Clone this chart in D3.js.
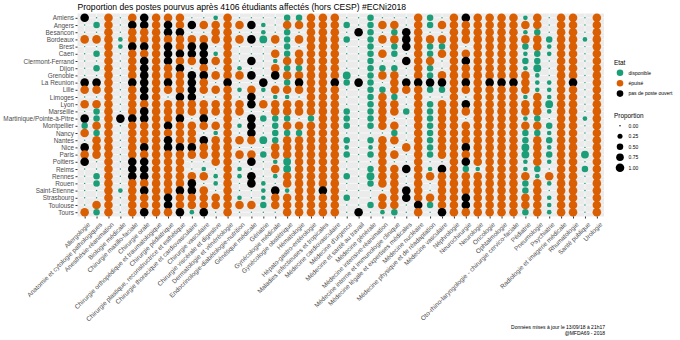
<!DOCTYPE html>
<html><head><meta charset="utf-8">
<script src="https://cdn.jsdelivr.net/npm/d3@7"></script>
<style>
body{margin:0;background:#fff}
text{font-family:"Liberation Sans",Arial,sans-serif}
</style>
</head><body>
<svg id="chart" width="680" height="340"></svg>
<script>
const villes = ["Amiens","Angers","Besancon","Bordeaux","Brest","Caen","Clermont-Ferrand","Dijon","Grenoble","La Reunion","Lille","Limoges","Lyon","Marseille","Martinique/Pointe-à-Pitre","Montpellier","Nancy","Nantes","Nice","Paris","Poitiers","Reims","Rennes","Rouen","Saint-Etienne","Strasbourg","Toulouse","Tours"];

const specialites = ["Allergologie","Anatomie et cytologie pathologiques","Anesthésie-réanimation","Biologie médicale","Chirurgie maxillo-faciale","Chirurgie orale","Chirurgie orthopédique et traumatologique","Chirurgie pédiatrique","Chirurgie plastique, reconstructrice et esthétique","Chirurgie thoracique et cardiovasculaire","Chirurgie vasculaire","Chirurgie viscérale et digestive","Dermatologie et vénéréologie","Endocrinologie-diabétologie-nutrition","Génétique médicale","Gériatrie","Gynécologie médicale","Gynécologie obstétrique","Hématologie","Hépato-gastro-entérologie","Maladies infectieuses et tropicales","Médecine cardiovasculaire","Médecine d'urgence","Médecine et santé au travail","Médecine générale","Médecine intensive-réanimation","Médecine interne et immunologie clinique","Médecine légale et expertises médicales","Médecine nucléaire","Médecine physique et de réadaptation","Médecine vasculaire","Néphrologie","Neurochirurgie","Neurologie","Oncologie","Ophtalmologie","Oto-rhino-laryngologie - chirurgie cervico-faciale","Pédiatrie","Pneumologie","Psychiatrie","Radiologie et imagerie médicale","Rhumatologie","Santé publique","Urologie"];

// One string per city, one character per speciality (same order as above):
// 'O' = épuisé, 'B' = pas de poste ouvert, digit d = disponible, proportion d/10
const postes = [
  "B0O0OBOOO002O00"+"0055OOO"+"005000O5"+"0OBOOOO2O0OO0O",
  "05O0BBOBOBOOOOB"+"20OOOOO"+"505OO0O5"+"OOOOOOOOO0OO0O",
  "00O0OOOBB00OO00"+"2050OOO"+"0B505BO0"+"0OOOOOO250OO0O",
  "OOO2OOOOOOOOOOB"+"8O5OOOO"+"505OOBOO"+"OOOOOOOOO5OO2O",
  "00O2BBOBOBB0O00"+"0050OOO"+"00505BO5"+"5O0OOOO5O2OO0O",
  "05O0OOOBBBB2O00"+"0O5OOOO"+"005O50O5"+"OOOOOOO252OO0O",
  "00O0OBOBOOBOO0B"+"02OOOOO"+"00500BOO"+"0OBOOOO550OO0O",
  "05O0OBOOB0O0O20"+"0O55OOO"+"005550O5"+"0OOOOOO280OO0O",
  "00O0OBOOOBBOOOB"+"0BOOOOO"+"805OO0O5"+"OOOOOOOO20OO0O",
  "BBO0BBOBOBO0B00"+"B05BOOB"+"5B50OBBB"+"BOBOBBBO22OB0O",
  "OOO0OBOOOBOOO2O"+"2OOOOOO"+"0055OOO5"+"5OOOOOOO22OO0O",
  "00O0OBO0BB00O0B"+"0220OOO"+"005O50O0"+"0O0OOOO2O2OO0O",
  "OOO0OOOOOOOOOOB"+"OOOOOOO"+"005OO0O5"+"OOBOOOOOO8OO0O",
  "05O0OBOOOOOOOO0"+"0OOOOOO"+"505OO5O5"+"OOOOOOOOO2OO0O",
  "B5OBBBOOB0B0O0B"+"55505OO"+"505O00O5"+"OO0OOOO250OO2O",
  "5OO0OOOBOOOOO2B"+"05OOOOO"+"505OO0O5"+"OOOOOOOOO5OO0O",
  "O5O0OOOOOO02O0B"+"0555OOO"+"000050O5"+"OOOOOOO552OO0O",
  "0OO0OOOBOOBOOOO"+"85OOOOO"+"505OO0O5"+"OOOOOOO5O5OO0O",
  "BOO0OBOBBBOOO00"+"0OOOOOO"+"202O0OO5"+"OOBOOOO8O2OO0O",
  "OOO0OOOOOOOOOOO"+"5OOOOOO"+"505OO0O5"+"OOOOOOO8O5OO8O",
  "B0O0BBOOO00OO0B"+"028OOOO"+"000O00O0"+"0OBOOOO2O2OO0O",
  "00O0BBOOO020O20"+"0O8OOOO"+"005OOBO2"+"BO52OOO250OO5O",
  "05O0BBOOOOO2O2B"+"02OOOOO"+"508OO0OO"+"OOOOOOOO2OOO0O",
  "05O0OOOOOB02O0B"+"20OOOOO"+"005OO0O0"+"OOOOOOO5O2OO0O",
  "00O2OBOOBBO0O00"+"2B2OOBO"+"0000OBO0"+"OOOOOOO5O0OO0O",
  "00O0OOOBOOOOO20"+"2OOOOOO"+"500OOBOO"+"OOBOOOOOO2OO0O",
  "0OO0OOOBOOOOOOO"+"5OOOOOO"+"005OO0B5"+"OOBOOOOOO2OO0O",
  "O5O0OBOOB2B0O00"+"00OOOOO"+"0B0250O0"+"BOOOOOO5O2OO0O"
];

const etats = ["disponible","épuisé","pas de poste ouvert"];
const couleursEtat = ["#1B9E77","#D95F02","#000000"];
const proportionTicks = [0, 0.25, 0.5, 0.75, 1];

const titre = "Proportion des postes pourvus après 4106 étudiants affectés (hors CESP) #ECNi2018";
const piedDePage = ["Données mises à jour le 13/09/18 à 21h17", "@MFDA69 - 2018"];

// cells: city x speciality
const cellules = [];
villes.forEach((v, i) => {
  specialites.forEach((s, j) => {
    const c = postes[i][j];
    const etat = c === "O" ? "épuisé" : c === "B" ? "pas de poste ouvert" : "disponible";
    const proportion = (c === "O" || c === "B") ? 1 : (+c) / 10;
    cellules.push({ville: v, specialite: s, etat, proportion});
  });
});

const svg = d3.select("#chart");
const panel = {x0: 77.5, x1: 604, y0: 13.5, y1: 216.5};

const x = d3.scalePoint().domain(specialites).range([panel.x0, panel.x1]).padding(0.6);
const y = d3.scalePoint().domain(villes).range([panel.y0, panel.y1]).padding(0.6);
const couleur = d3.scaleOrdinal().domain(etats).range(couleursEtat);
const taille = d3.scaleSqrt().domain([0, 1]).range([0.72, 4.3]);

// panel background and grid
svg.append("rect").attr("x", panel.x0).attr("y", panel.y0)
  .attr("width", panel.x1 - panel.x0).attr("height", panel.y1 - panel.y0)
  .attr("fill", "#EBEBEB");
const grille = svg.append("g").attr("stroke", "#fff").attr("stroke-width", 0.6);
grille.selectAll("line.v").data(specialites).join("line")
  .attr("x1", d => x(d)).attr("x2", d => x(d)).attr("y1", panel.y0).attr("y2", panel.y1);
grille.selectAll("line.h").data(villes).join("line")
  .attr("y1", d => y(d)).attr("y2", d => y(d)).attr("x1", panel.x0).attr("x2", panel.x1);

// points
svg.append("g").selectAll("circle").data(cellules).join("circle")
  .attr("cx", d => x(d.specialite))
  .attr("cy", d => y(d.ville))
  .attr("r", d => taille(d.proportion))
  .attr("fill", d => couleur(d.etat));

// axes
const axeY = svg.append("g").attr("transform", `translate(${panel.x0},0)`)
  .call(d3.axisLeft(y).tickSize(2).tickPadding(1.5));
axeY.select(".domain").remove();
axeY.selectAll("line").attr("stroke", "#333");
axeY.selectAll("text").attr("fill", "#4D4D4D").style("font-size", "6.4px");

const axeX = svg.append("g").attr("transform", `translate(0,${panel.y1})`)
  .call(d3.axisBottom(x).tickSize(2).tickPadding(1.5));
axeX.select(".domain").remove();
axeX.selectAll("line").attr("stroke", "#333");
axeX.selectAll("text")
  .attr("fill", "#4D4D4D").style("font-size", "6.4px")
  .attr("text-anchor", "end")
  .attr("dy", null).attr("y", null)
  .attr("transform", "translate(2,5) rotate(-45)")
  .attr("dominant-baseline", "hanging");

// title
svg.append("text").attr("x", panel.x0).attr("y", 10)
  .style("font-size", "8.6px").attr("fill", "#000").text(titre);

// legend: Etat
const legEtat = svg.append("g");
legEtat.append("text").attr("x", 614).attr("y", 64.5).style("font-size", "6.4px").text("Etat");
const itemsEtat = legEtat.selectAll("g").data(etats).join("g")
  .attr("transform", (d, i) => `translate(620,${72.8 + i * 10.4})`);
itemsEtat.append("circle").attr("r", 3.3).attr("fill", d => couleur(d));
itemsEtat.append("text").attr("x", 8.5).attr("dy", "0.35em").style("font-size", "5px").text(d => d);

// legend: Proportion
const legProp = svg.append("g");
legProp.append("text").attr("x", 614).attr("y", 117.5).style("font-size", "6.4px").text("Proportion");
const itemsProp = legProp.selectAll("g").data(proportionTicks).join("g")
  .attr("transform", (d, i) => `translate(620,${125.8 + i * 10.5})`);
itemsProp.append("circle").attr("r", d => taille(d)).attr("fill", "#000");
itemsProp.append("text").attr("x", 8.5).attr("dy", "0.35em").style("font-size", "5px")
  .text(d => d3.format(".2f")(d));

// footer
svg.append("g").selectAll("text").data(piedDePage).join("text")
  .attr("x", 605).attr("y", (d, i) => 329 + i * 6.2)
  .attr("text-anchor", "end").style("font-size", "5px").attr("fill", "#000")
  .text(d => d);
</script>
</body></html>
